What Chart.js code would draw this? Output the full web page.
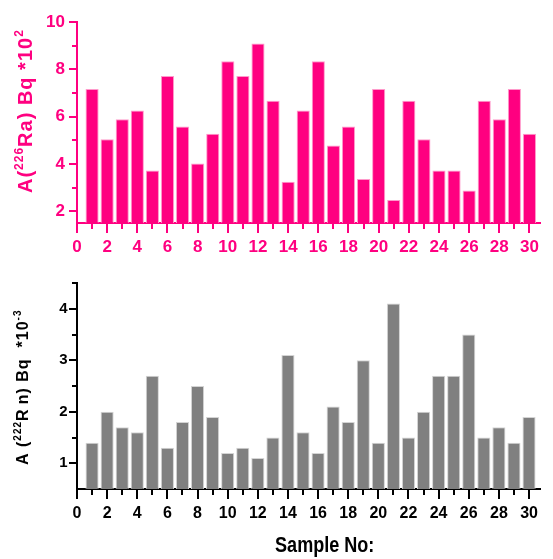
<!DOCTYPE html>
<html><head><meta charset="utf-8">
<script src="https://cdn.jsdelivr.net/npm/chart.js@4.4.1/dist/chart.umd.min.js"></script>
<style>
html,body{margin:0;padding:0;background:#fff;}
#wrap{position:relative;width:553px;height:559px;overflow:hidden;}
canvas{position:absolute;left:0;}
</style></head><body>
<div id="wrap">
<canvas id="c1" width="553" height="262" style="top:0px"></canvas>
<canvas id="c2" width="553" height="297" style="top:262px"></canvas>
</div>
<script>
// ---- data ----
const samples = [1,2,3,4,5,6,7,8,9,10,11,12,13,14,15,16,17,18,19,20,21,22,23,24,25,26,27,28,29,30];
const raValues = [7.17,5.04,5.89,6.26,3.72,7.72,5.59,4.02,5.28,8.35,7.72,9.1,6.67,3.25,6.26,8.35,4.78,5.59,3.36,7.17,2.47,6.67,5.04,3.72,3.72,2.88,6.67,5.89,7.17,5.28];
const rnValues = [1.4,2.0,1.7,1.6,2.7,1.3,1.8,2.5,1.9,1.2,1.3,1.1,1.5,3.1,1.6,1.2,2.1,1.8,3.0,1.4,4.1,1.5,2.0,2.7,2.7,3.5,1.5,1.7,1.4,1.9];
const xTickLabels = [0,2,4,6,8,10,12,14,16,18,20,22,24,26,28,30];
const xMinorTicks = [1,3,5,7,9,11,13,15,17,19,21,23,25,27,29];
const raTickLabels = [2,4,6,8,10];
const raMinorTicks = [3,5,7,9];
const rnTickLabels = [1,2,3,4];
const rnMinorTicks = [1.5,2.5,3.5,4.5];
const xTitle = 'Sample No:';

// ---- styles ----
const PINK = '#FF0080';
const PINK_EDGE = '#FF9ACB';
const GREY = '#808080';
const GREY_EDGE = '#D4D4D4';
const FONT = '"Liberation Sans", Arial, sans-serif';

function makeTickPlugin(cfg) {
  return {
    id: 'axisTicks_' + cfg.name,
    afterDraw(chart) {
      const ctx = chart.ctx, ca = chart.chartArea, x = chart.scales.x, y = chart.scales.y;
      ctx.save();
      ctx.strokeStyle = cfg.color;
      ctx.lineWidth = 2;
      ctx.beginPath();
      const b = ca.bottom;
      cfg.xMajor.forEach(v => { const p = Math.round(x.getPixelForValue(v)); ctx.moveTo(p, b); ctx.lineTo(p, b + cfg.xMajorLen); });
      cfg.xMinor.forEach(v => { const p = Math.round(x.getPixelForValue(v)); ctx.moveTo(p, b); ctx.lineTo(p, b + cfg.xMinorLen); });
      const l = ca.left;
      cfg.yMajor.forEach(v => { const p = Math.round(y.getPixelForValue(v)); ctx.moveTo(l, p); ctx.lineTo(l - cfg.yMajorLen, p); });
      cfg.yMinor.forEach(v => { const p = Math.round(y.getPixelForValue(v)); ctx.moveTo(l, p); ctx.lineTo(l - cfg.yMinorLen, p); });
      ctx.stroke();
      ctx.restore();
      // rotated y title
      drawRotated(ctx, cfg.ySegs, cfg.titleX, cfg.titleStartY, cfg.color, cfg.spacing);
      if (cfg.xTitle) {
        ctx.save();
        ctx.fillStyle = cfg.color;
        ctx.font = cfg.xTitle.font;
        ctx.textAlign = 'center';
        ctx.textBaseline = 'alphabetic';
        ctx.translate(cfg.xTitle.x, cfg.xTitle.y);
        ctx.scale(0.82, 1);
        ctx.fillText(cfg.xTitle.text, 0, 0);
        ctx.restore();
      }
    }
  };
}

function drawRotated(ctx, segs, baseX, startY, color, spacing) {
  ctx.save();
  ctx.translate(baseX, startY);
  ctx.rotate(-Math.PI / 2);
  ctx.fillStyle = color;
  ctx.textBaseline = 'alphabetic';
  ctx.textAlign = 'left';
  if ('letterSpacing' in ctx) ctx.letterSpacing = spacing + 'px';
  let pos = 0;
  segs.forEach(s => {
    ctx.font = s.font;
    ctx.fillText(s.text, pos, -(s.raise || 0));
    pos += ctx.measureText(s.text).width;
  });
  ctx.restore();
}

function setTicks(list) {
  return scale => { scale.ticks = list.map(v => ({ value: v })); };
}

// ---- top chart (226Ra) ----
new Chart(document.getElementById('c1'), {
  type: 'bar',
  data: {
    datasets: [{
      data: samples.map((s, i) => ({ x: s, y: raValues[i] })),
      backgroundColor: PINK,
      borderColor: PINK_EDGE,
      borderWidth: 1,
      barPercentage: 0.87,
      categoryPercentage: 1
    }]
  },
  options: {
    responsive: false,
    animation: false,
    devicePixelRatio: 1,
    layout: { padding: { top: 17, right: 3, left: 0, bottom: 0 } },
    plugins: { legend: { display: false }, tooltip: { enabled: false }, title: { display: false } },
    scales: {
      x: {
        type: 'linear', min: 0, max: 30.75, offset: false,
        grid: { display: false, drawTicks: false },
        border: { display: true, color: PINK, width: 2 },
        afterBuildTicks: setTicks(xTickLabels),
        afterFit: s => { s.height = 39; },
        ticks: { padding: 14, color: PINK, autoSkip: false, maxRotation: 0,
                 font: { family: FONT, size: 17, weight: 'bold' } }
      },
      y: {
        min: 1.5, max: 10,
        grid: { display: false, drawTicks: false },
        border: { display: true, color: PINK, width: 2 },
        afterBuildTicks: setTicks(raTickLabels),
        afterFit: s => { s.width = 77; },
        ticks: { padding: 12, color: PINK, autoSkip: false,
                 font: { family: FONT, size: 17, weight: 'bold' } }
      }
    }
  },
  plugins: [makeTickPlugin({
    name: 'ra', color: PINK,
    xMajor: xTickLabels, xMinor: xMinorTicks, yMajor: raTickLabels, yMinor: raMinorTicks,
    xMajorLen: 10, xMinorLen: 6, yMajorLen: 8, yMinorLen: 5,
    titleX: 32, titleStartY: 193, spacing: 1,
    ySegs: [
      { text: 'A(', font: 'bold 20px ' + FONT },
      { text: '226', font: 'bold 12px ' + FONT, raise: 9 },
      { text: 'Ra) Bq *10', font: 'bold 20px ' + FONT },
      { text: '2', font: 'bold 12px ' + FONT, raise: 9 }
    ]
  })]
});

// ---- bottom chart (222Rn) ----
new Chart(document.getElementById('c2'), {
  type: 'bar',
  data: {
    datasets: [{
      data: samples.map((s, i) => ({ x: s, y: rnValues[i] })),
      backgroundColor: GREY,
      borderColor: GREY_EDGE,
      borderWidth: 1,
      barPercentage: 0.87,
      categoryPercentage: 1
    }]
  },
  options: {
    responsive: false,
    animation: false,
    devicePixelRatio: 1,
    layout: { padding: { top: 21, right: 3, left: 0, bottom: 0 } },
    plugins: { legend: { display: false }, tooltip: { enabled: false }, title: { display: false } },
    scales: {
      x: {
        type: 'linear', min: 0, max: 30.75, offset: false,
        grid: { display: false, drawTicks: false },
        border: { display: true, color: '#000', width: 2 },
        afterBuildTicks: setTicks(xTickLabels),
        afterFit: s => { s.height = 70; },
        ticks: { padding: 15, color: '#000', autoSkip: false, maxRotation: 0,
                 font: { family: FONT, size: 16, weight: 'bold' } }
      },
      y: {
        min: 0.5, max: 4.5,
        grid: { display: false, drawTicks: false },
        border: { display: true, color: '#000', width: 2 },
        afterBuildTicks: setTicks(rnTickLabels),
        afterFit: s => { s.width = 77; },
        ticks: { padding: 9.5, color: '#000', autoSkip: false,
                 font: { family: FONT, size: 15, weight: 'bold' } }
      }
    }
  },
  plugins: [makeTickPlugin({
    name: 'rn', color: '#000',
    xMajor: xTickLabels, xMinor: xMinorTicks, yMajor: rnTickLabels, yMinor: rnMinorTicks,
    xMajorLen: 10, xMinorLen: 6, yMajorLen: 8, yMinorLen: 5,
    titleX: 27.5, titleStartY: 203, spacing: 1,
    ySegs: [
      { text: 'A (', font: 'bold 16px ' + FONT },
      { text: '222', font: 'bold 10px ' + FONT, raise: 7 },
      { text: 'R\u2009n) Bq  *10', font: 'bold 16px ' + FONT },
      { text: '-3', font: 'bold 10px ' + FONT, raise: 7 }
    ],
    xTitle: { text: xTitle, font: 'bold 22px ' + FONT, x: 324.7, y: 289.7 }
  })]
});
</script>
</body></html>
